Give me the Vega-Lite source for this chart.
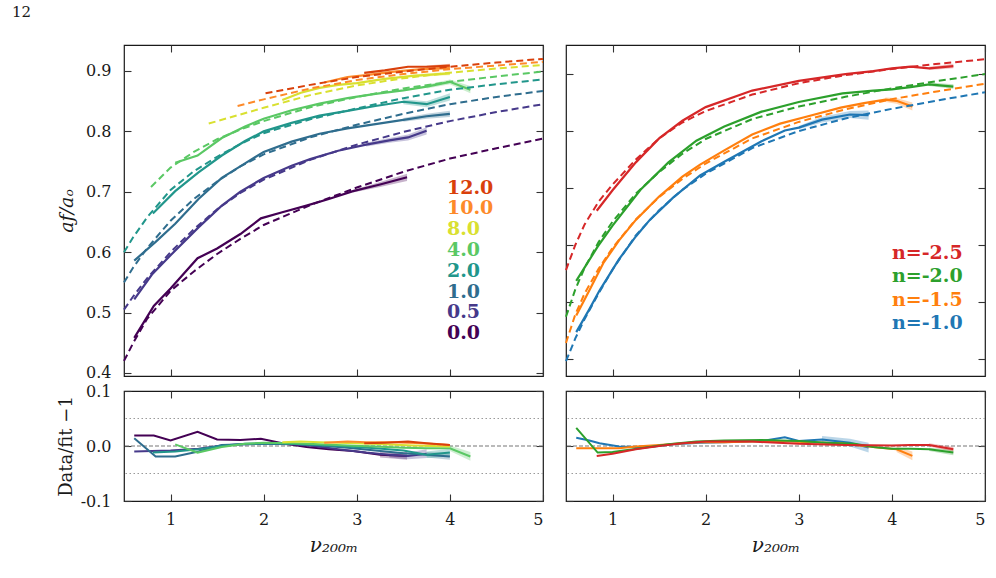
{
"$schema": "https://vega.github.io/schema/vega-lite/v6.json",
"padding": {"left": 12, "top": 4, "right": 8, "bottom": 4},
"background": "white",
"title": {"text": "12", "anchor": "start", "frame": "group", "dx": -112, "offset": 24, "fontSize": 15, "font": "DejaVu Serif", "fontWeight": "normal", "color": "#1a1a1a"},
"columns": 2,
"spacing": {"row": 15, "column": 23},
"bounds": "flush",
"align": "each",
"resolve": {"scale": {"color": "independent"}},
"config": {
  "font": "DejaVu Serif",
  "view": {"stroke": "#1a1a1a", "strokeWidth": 1.2},
  "axis": {"labelFont": "DejaVu Serif", "labelFontSize": 16, "labelColor": "#1a1a1a", "tickColor": "#333333", "tickSize": -7, "tickWidth": 1.1, "domain": false, "grid": false, "labelPadding": 20, "titleFont": "DejaVu Serif", "titleFontWeight": "normal", "titleColor": "#1a1a1a", "titleFontSize": 19},
  "legend": {"labelFont": "DejaVu Serif", "labelFontWeight": "bold", "labelFontSize": 19, "symbolOpacity": 0, "symbolSize": 0, "symbolStrokeWidth": 0, "labelOffset": 0, "padding": 0}
},
"datasets": {
  "fitL": [
    {"g":"0.0","x":0.5,"y":0.42},{"g":"0.0","x":0.6,"y":0.45},{"g":"0.0","x":0.75,"y":0.49},{"g":"0.0","x":1.0,"y":0.536},{"g":"0.0","x":1.25,"y":0.568},{"g":"0.0","x":1.5,"y":0.597},{"g":"0.0","x":1.75,"y":0.622},{"g":"0.0","x":2.0,"y":0.645},{"g":"0.0","x":2.5,"y":0.678},{"g":"0.0","x":3.0,"y":0.707},{"g":"0.0","x":3.5,"y":0.733},{"g":"0.0","x":4.0,"y":0.755},{"g":"0.0","x":4.5,"y":0.772},{"g":"0.0","x":5.0,"y":0.788},
    {"g":"0.5","x":0.5,"y":0.505},{"g":"0.5","x":0.6,"y":0.527},{"g":"0.5","x":0.75,"y":0.557},{"g":"0.5","x":1.0,"y":0.6},{"g":"0.5","x":1.25,"y":0.638},{"g":"0.5","x":1.5,"y":0.671},{"g":"0.5","x":1.75,"y":0.698},{"g":"0.5","x":2.0,"y":0.72},{"g":"0.5","x":2.5,"y":0.753},{"g":"0.5","x":3.0,"y":0.778},{"g":"0.5","x":3.5,"y":0.799},{"g":"0.5","x":4.0,"y":0.817},{"g":"0.5","x":4.5,"y":0.832},{"g":"0.5","x":5.0,"y":0.845},
    {"g":"1.0","x":0.5,"y":0.55},{"g":"1.0","x":0.6,"y":0.575},{"g":"1.0","x":0.75,"y":0.607},{"g":"1.0","x":1.0,"y":0.652},{"g":"1.0","x":1.25,"y":0.688},{"g":"1.0","x":1.5,"y":0.717},{"g":"1.0","x":1.75,"y":0.742},{"g":"1.0","x":2.0,"y":0.762},{"g":"1.0","x":2.5,"y":0.79},{"g":"1.0","x":3.0,"y":0.811},{"g":"1.0","x":3.5,"y":0.829},{"g":"1.0","x":4.0,"y":0.845},{"g":"1.0","x":4.5,"y":0.857},{"g":"1.0","x":5.0,"y":0.867},
    {"g":"2.0","x":0.5,"y":0.6},{"g":"2.0","x":0.6,"y":0.625},{"g":"2.0","x":0.75,"y":0.658},{"g":"2.0","x":1.0,"y":0.703},{"g":"2.0","x":1.25,"y":0.734},{"g":"2.0","x":1.5,"y":0.758},{"g":"2.0","x":1.75,"y":0.779},{"g":"2.0","x":2.0,"y":0.797},{"g":"2.0","x":2.5,"y":0.82},{"g":"2.0","x":3.0,"y":0.838},{"g":"2.0","x":3.5,"y":0.855},{"g":"2.0","x":4.0,"y":0.869},{"g":"2.0","x":4.5,"y":0.878},{"g":"2.0","x":5.0,"y":0.886},
    {"g":"4.0","x":0.79,"y":0.708},{"g":"4.0","x":1.0,"y":0.74},{"g":"4.0","x":1.25,"y":0.766},{"g":"4.0","x":1.5,"y":0.787},{"g":"4.0","x":1.75,"y":0.803},{"g":"4.0","x":2.0,"y":0.817},{"g":"4.0","x":2.5,"y":0.84},{"g":"4.0","x":3.0,"y":0.857},{"g":"4.0","x":3.5,"y":0.871},{"g":"4.0","x":4.0,"y":0.882},{"g":"4.0","x":4.5,"y":0.891},{"g":"4.0","x":5.0,"y":0.899},
    {"g":"8.0","x":1.41,"y":0.813},{"g":"8.0","x":1.75,"y":0.828},{"g":"8.0","x":2.0,"y":0.839},{"g":"8.0","x":2.5,"y":0.86},{"g":"8.0","x":3.0,"y":0.876},{"g":"8.0","x":3.5,"y":0.888},{"g":"8.0","x":4.0,"y":0.897},{"g":"8.0","x":4.5,"y":0.904},{"g":"8.0","x":5.0,"y":0.91},
    {"g":"10.0","x":1.72,"y":0.842},{"g":"10.0","x":2.0,"y":0.853},{"g":"10.0","x":2.5,"y":0.871},{"g":"10.0","x":3.0,"y":0.885},{"g":"10.0","x":3.5,"y":0.895},{"g":"10.0","x":4.0,"y":0.903},{"g":"10.0","x":4.5,"y":0.909},{"g":"10.0","x":5.0,"y":0.915},
    {"g":"12.0","x":2.02,"y":0.863},{"g":"12.0","x":2.5,"y":0.877},{"g":"12.0","x":3.0,"y":0.89},{"g":"12.0","x":3.5,"y":0.899},{"g":"12.0","x":4.0,"y":0.907},{"g":"12.0","x":4.5,"y":0.914},{"g":"12.0","x":5.0,"y":0.92}
  ],
  "dataL": [
    {"g":"0.0","x":0.61,"y":0.458},{"g":"0.0","x":0.82,"y":0.511},{"g":"0.0","x":1.0,"y":0.54},{"g":"0.0","x":1.29,"y":0.59},{"g":"0.0","x":1.5,"y":0.606},{"g":"0.0","x":1.75,"y":0.63},{"g":"0.0","x":1.97,"y":0.656},{"g":"0.0","x":2.2,"y":0.666},{"g":"0.0","x":2.46,"y":0.677},{"g":"0.0","x":2.7,"y":0.688},{"g":"0.0","x":2.96,"y":0.701},{"g":"0.0","x":3.25,"y":0.712},{"g":"0.0","x":3.54,"y":0.724},
    {"g":"0.5","x":0.61,"y":0.522},{"g":"0.5","x":0.8,"y":0.563},{"g":"0.5","x":1.0,"y":0.595},{"g":"0.5","x":1.3,"y":0.641},{"g":"0.5","x":1.55,"y":0.677},{"g":"0.5","x":1.75,"y":0.7},{"g":"0.5","x":2.0,"y":0.723},{"g":"0.5","x":2.3,"y":0.743},{"g":"0.5","x":2.5,"y":0.754},{"g":"0.5","x":2.8,"y":0.768},{"g":"0.5","x":3.1,"y":0.778},{"g":"0.5","x":3.35,"y":0.785},{"g":"0.5","x":3.55,"y":0.79},{"g":"0.5","x":3.75,"y":0.801},
    {"g":"1.0","x":0.61,"y":0.586},{"g":"1.0","x":0.84,"y":0.617},{"g":"1.0","x":1.05,"y":0.647},{"g":"1.0","x":1.3,"y":0.688},{"g":"1.0","x":1.55,"y":0.723},{"g":"1.0","x":1.8,"y":0.747},{"g":"1.0","x":2.0,"y":0.766},{"g":"1.0","x":2.3,"y":0.783},{"g":"1.0","x":2.6,"y":0.796},{"g":"1.0","x":2.9,"y":0.805},{"g":"1.0","x":3.2,"y":0.812},{"g":"1.0","x":3.5,"y":0.819},{"g":"1.0","x":3.75,"y":0.825},{"g":"1.0","x":4.0,"y":0.829},
    {"g":"2.0","x":0.81,"y":0.664},{"g":"2.0","x":1.05,"y":0.701},{"g":"2.0","x":1.3,"y":0.732},{"g":"2.0","x":1.55,"y":0.76},{"g":"2.0","x":1.8,"y":0.784},{"g":"2.0","x":2.0,"y":0.8},{"g":"2.0","x":2.3,"y":0.814},{"g":"2.0","x":2.6,"y":0.826},{"g":"2.0","x":2.9,"y":0.834},{"g":"2.0","x":3.2,"y":0.842},{"g":"2.0","x":3.5,"y":0.849},{"g":"2.0","x":3.75,"y":0.845},{"g":"2.0","x":4.0,"y":0.857},
    {"g":"4.0","x":1.05,"y":0.748},{"g":"4.0","x":1.29,"y":0.76},{"g":"4.0","x":1.55,"y":0.789},{"g":"4.0","x":1.8,"y":0.808},{"g":"4.0","x":2.0,"y":0.821},{"g":"4.0","x":2.3,"y":0.835},{"g":"4.0","x":2.6,"y":0.846},{"g":"4.0","x":2.9,"y":0.855},{"g":"4.0","x":3.2,"y":0.862},{"g":"4.0","x":3.5,"y":0.868},{"g":"4.0","x":3.75,"y":0.874},{"g":"4.0","x":4.0,"y":0.882},{"g":"4.0","x":4.22,"y":0.869},
    {"g":"8.0","x":2.2,"y":0.852},{"g":"8.0","x":2.4,"y":0.864},{"g":"8.0","x":2.6,"y":0.872},{"g":"8.0","x":2.8,"y":0.877},{"g":"8.0","x":3.0,"y":0.88},{"g":"8.0","x":3.3,"y":0.887},{"g":"8.0","x":3.6,"y":0.892},{"g":"8.0","x":3.8,"y":0.894},{"g":"8.0","x":4.0,"y":0.896},
    {"g":"10.0","x":2.65,"y":0.881},{"g":"10.0","x":2.9,"y":0.89},{"g":"10.0","x":3.1,"y":0.893},{"g":"10.0","x":3.4,"y":0.899},{"g":"10.0","x":3.7,"y":0.903},{"g":"10.0","x":4.0,"y":0.905},
    {"g":"12.0","x":3.08,"y":0.897},{"g":"12.0","x":3.3,"y":0.901},{"g":"12.0","x":3.55,"y":0.907},{"g":"12.0","x":3.75,"y":0.907},{"g":"12.0","x":4.0,"y":0.909}
  ],
  "bandL": [
    {"g":"0.0","x":2.96,"lo":0.699,"hi":0.703},{"g":"0.0","x":3.25,"lo":0.708,"hi":0.716},{"g":"0.0","x":3.54,"lo":0.718,"hi":0.73},
    {"g":"0.5","x":3.1,"lo":0.775,"hi":0.781},{"g":"0.5","x":3.35,"lo":0.781,"hi":0.789},{"g":"0.5","x":3.55,"lo":0.785,"hi":0.795},{"g":"0.5","x":3.75,"lo":0.795,"hi":0.807},
    {"g":"1.0","x":3.5,"lo":0.816,"hi":0.822},{"g":"1.0","x":3.75,"lo":0.821,"hi":0.829},{"g":"1.0","x":4.0,"lo":0.824,"hi":0.834},
    {"g":"2.0","x":3.5,"lo":0.845,"hi":0.853},{"g":"2.0","x":3.75,"lo":0.84,"hi":0.85},{"g":"2.0","x":4.0,"lo":0.851,"hi":0.863},
    {"g":"4.0","x":3.75,"lo":0.871,"hi":0.877},{"g":"4.0","x":4.0,"lo":0.878,"hi":0.886},{"g":"4.0","x":4.22,"lo":0.863,"hi":0.875},
    {"g":"8.0","x":3.6,"lo":0.89,"hi":0.894},{"g":"8.0","x":4.0,"lo":0.893,"hi":0.899},
    {"g":"10.0","x":3.7,"lo":0.901,"hi":0.905},{"g":"10.0","x":4.0,"lo":0.902,"hi":0.908},
    {"g":"12.0","x":3.75,"lo":0.905,"hi":0.909},{"g":"12.0","x":4.0,"lo":0.906,"hi":0.912}
  ],
  "resL": [
    {"g":"0.0","x":0.61,"r":0.019},{"g":"0.0","x":0.82,"r":0.019},{"g":"0.0","x":1.0,"r":0.01},{"g":"0.0","x":1.29,"r":0.026},{"g":"0.0","x":1.5,"r":0.012},{"g":"0.0","x":1.75,"r":0.011},{"g":"0.0","x":1.97,"r":0.013},{"g":"0.0","x":2.2,"r":0.005},{"g":"0.0","x":2.46,"r":-0.002},{"g":"0.0","x":2.7,"r":-0.006},{"g":"0.0","x":2.96,"r":-0.009},{"g":"0.0","x":3.25,"r":-0.016},{"g":"0.0","x":3.54,"r":-0.018},
    {"g":"0.5","x":0.61,"r":-0.01},{"g":"0.5","x":0.8,"r":-0.009},{"g":"0.5","x":1.0,"r":-0.008},{"g":"0.5","x":1.3,"r":-0.005},{"g":"0.5","x":1.55,"r":0.001},{"g":"0.5","x":1.75,"r":0.003},{"g":"0.5","x":2.0,"r":0.004},{"g":"0.5","x":2.3,"r":0.003},{"g":"0.5","x":2.5,"r":0.001},{"g":"0.5","x":2.8,"r":-0.006},{"g":"0.5","x":3.1,"r":-0.012},{"g":"0.5","x":3.35,"r":-0.016},{"g":"0.5","x":3.55,"r":-0.018},{"g":"0.5","x":3.75,"r":-0.014},
    {"g":"1.0","x":0.61,"r":0.014},{"g":"1.0","x":0.84,"r":-0.019},{"g":"1.0","x":1.05,"r":-0.019},{"g":"1.0","x":1.3,"r":-0.01},{"g":"1.0","x":1.55,"r":0.002},{"g":"1.0","x":1.8,"r":0.003},{"g":"1.0","x":2.0,"r":0.004},{"g":"1.0","x":2.3,"r":0.004},{"g":"1.0","x":2.6,"r":0.001},{"g":"1.0","x":2.9,"r":-0.003},{"g":"1.0","x":3.2,"r":-0.008},{"g":"1.0","x":3.5,"r":-0.013},{"g":"1.0","x":3.75,"r":-0.016},{"g":"1.0","x":4.0,"r":-0.019},
    {"g":"2.0","x":0.81,"r":-0.012},{"g":"2.0","x":1.05,"r":-0.01},{"g":"2.0","x":1.3,"r":-0.006},{"g":"2.0","x":1.55,"r":0.0},{"g":"2.0","x":1.8,"r":0.004},{"g":"2.0","x":2.0,"r":0.005},{"g":"2.0","x":2.3,"r":0.004},{"g":"2.0","x":2.6,"r":0.002},{"g":"2.0","x":2.9,"r":-0.001},{"g":"2.0","x":3.2,"r":-0.004},{"g":"2.0","x":3.5,"r":-0.008},{"g":"2.0","x":3.75,"r":-0.016},{"g":"2.0","x":4.0,"r":-0.012},
    {"g":"4.0","x":1.05,"r":0.003},{"g":"4.0","x":1.29,"r":-0.012},{"g":"4.0","x":1.55,"r":-0.002},{"g":"4.0","x":1.8,"r":0.004},{"g":"4.0","x":2.0,"r":0.006},{"g":"4.0","x":2.3,"r":0.005},{"g":"4.0","x":2.6,"r":0.003},{"g":"4.0","x":2.9,"r":0.001},{"g":"4.0","x":3.2,"r":-0.001},{"g":"4.0","x":3.5,"r":-0.003},{"g":"4.0","x":3.75,"r":-0.004},{"g":"4.0","x":4.0,"r":-0.004},{"g":"4.0","x":4.22,"r":-0.019},
    {"g":"8.0","x":2.2,"r":0.007},{"g":"8.0","x":2.4,"r":0.008},{"g":"8.0","x":2.6,"r":0.007},{"g":"8.0","x":2.8,"r":0.006},{"g":"8.0","x":3.0,"r":0.005},{"g":"8.0","x":3.3,"r":0.003},{"g":"8.0","x":3.6,"r":0.001},{"g":"8.0","x":3.8,"r":0.0},{"g":"8.0","x":4.0,"r":-0.001},
    {"g":"10.0","x":2.65,"r":0.006},{"g":"10.0","x":2.9,"r":0.008},{"g":"10.0","x":3.1,"r":0.007},{"g":"10.0","x":3.4,"r":0.007},{"g":"10.0","x":3.7,"r":0.005},{"g":"10.0","x":4.0,"r":0.002},
    {"g":"12.0","x":3.08,"r":0.005},{"g":"12.0","x":3.3,"r":0.006},{"g":"12.0","x":3.55,"r":0.008},{"g":"12.0","x":3.75,"r":0.005},{"g":"12.0","x":4.0,"r":0.002}
  ],
  "resbandL": [
    {"g":"0.0","x":3.25,"lo":-0.021,"hi":-0.011},{"g":"0.0","x":3.54,"lo":-0.025,"hi":-0.011},
    {"g":"0.5","x":3.35,"lo":-0.021,"hi":-0.011},{"g":"0.5","x":3.55,"lo":-0.024,"hi":-0.012},{"g":"0.5","x":3.75,"lo":-0.022,"hi":-0.006},
    {"g":"1.0","x":3.75,"lo":-0.021,"hi":-0.011},{"g":"1.0","x":4.0,"lo":-0.025,"hi":-0.013},
    {"g":"2.0","x":3.75,"lo":-0.022,"hi":-0.01},{"g":"2.0","x":4.0,"lo":-0.019,"hi":-0.005},
    {"g":"4.0","x":4.0,"lo":-0.009,"hi":0.001},{"g":"4.0","x":4.22,"lo":-0.027,"hi":-0.011}
  ],
  "fitR": [
    {"g":"n=-1.0","x":0.5,"y":0.396},{"g":"n=-1.0","x":0.6,"y":0.436},{"g":"n=-1.0","x":0.7,"y":0.47},{"g":"n=-1.0","x":0.85,"y":0.515},{"g":"n=-1.0","x":1.0,"y":0.557},{"g":"n=-1.0","x":1.25,"y":0.617},{"g":"n=-1.0","x":1.5,"y":0.661},{"g":"n=-1.0","x":1.75,"y":0.697},{"g":"n=-1.0","x":2.0,"y":0.725},{"g":"n=-1.0","x":2.5,"y":0.77},{"g":"n=-1.0","x":3.0,"y":0.8},{"g":"n=-1.0","x":3.5,"y":0.822},{"g":"n=-1.0","x":4.0,"y":0.839},{"g":"n=-1.0","x":4.5,"y":0.854},{"g":"n=-1.0","x":5.0,"y":0.868},
    {"g":"n=-1.5","x":0.5,"y":0.428},{"g":"n=-1.5","x":0.6,"y":0.478},{"g":"n=-1.5","x":0.7,"y":0.515},{"g":"n=-1.5","x":0.85,"y":0.558},{"g":"n=-1.5","x":1.0,"y":0.595},{"g":"n=-1.5","x":1.25,"y":0.645},{"g":"n=-1.5","x":1.5,"y":0.684},{"g":"n=-1.5","x":1.75,"y":0.716},{"g":"n=-1.5","x":2.0,"y":0.743},{"g":"n=-1.5","x":2.5,"y":0.787},{"g":"n=-1.5","x":3.0,"y":0.816},{"g":"n=-1.5","x":3.5,"y":0.838},{"g":"n=-1.5","x":4.0,"y":0.856},{"g":"n=-1.5","x":4.5,"y":0.87},{"g":"n=-1.5","x":5.0,"y":0.883},
    {"g":"n=-2.0","x":0.5,"y":0.474},{"g":"n=-2.0","x":0.6,"y":0.522},{"g":"n=-2.0","x":0.7,"y":0.56},{"g":"n=-2.0","x":0.85,"y":0.605},{"g":"n=-2.0","x":1.0,"y":0.641},{"g":"n=-2.0","x":1.25,"y":0.69},{"g":"n=-2.0","x":1.5,"y":0.728},{"g":"n=-2.0","x":1.75,"y":0.76},{"g":"n=-2.0","x":2.0,"y":0.786},{"g":"n=-2.0","x":2.5,"y":0.821},{"g":"n=-2.0","x":3.0,"y":0.843},{"g":"n=-2.0","x":3.5,"y":0.86},{"g":"n=-2.0","x":4.0,"y":0.875},{"g":"n=-2.0","x":4.5,"y":0.888},{"g":"n=-2.0","x":5.0,"y":0.9},
    {"g":"n=-2.5","x":0.5,"y":0.556},{"g":"n=-2.5","x":0.6,"y":0.6},{"g":"n=-2.5","x":0.7,"y":0.636},{"g":"n=-2.5","x":0.85,"y":0.676},{"g":"n=-2.5","x":1.0,"y":0.706},{"g":"n=-2.5","x":1.25,"y":0.75},{"g":"n=-2.5","x":1.5,"y":0.787},{"g":"n=-2.5","x":1.75,"y":0.815},{"g":"n=-2.5","x":2.0,"y":0.835},{"g":"n=-2.5","x":2.5,"y":0.864},{"g":"n=-2.5","x":3.0,"y":0.884},{"g":"n=-2.5","x":3.5,"y":0.898},{"g":"n=-2.5","x":4.0,"y":0.909},{"g":"n=-2.5","x":4.5,"y":0.918},{"g":"n=-2.5","x":5.0,"y":0.926}
  ],
  "dataR": [
    {"g":"n=-1.0","x":0.61,"y":0.447},{"g":"n=-1.0","x":0.75,"y":0.487},{"g":"n=-1.0","x":0.86,"y":0.52},{"g":"n=-1.0","x":1.07,"y":0.575},{"g":"n=-1.0","x":1.25,"y":0.615},{"g":"n=-1.0","x":1.4,"y":0.644},{"g":"n=-1.0","x":1.65,"y":0.683},{"g":"n=-1.0","x":1.94,"y":0.722},{"g":"n=-1.0","x":2.2,"y":0.746},{"g":"n=-1.0","x":2.6,"y":0.782},{"g":"n=-1.0","x":2.85,"y":0.801},{"g":"n=-1.0","x":3.0,"y":0.806},{"g":"n=-1.0","x":3.25,"y":0.82},{"g":"n=-1.0","x":3.55,"y":0.829},{"g":"n=-1.0","x":3.75,"y":0.828},
    {"g":"n=-1.5","x":0.61,"y":0.476},{"g":"n=-1.5","x":0.75,"y":0.52},{"g":"n=-1.5","x":0.9,"y":0.568},{"g":"n=-1.5","x":1.07,"y":0.608},{"g":"n=-1.5","x":1.25,"y":0.644},{"g":"n=-1.5","x":1.5,"y":0.685},{"g":"n=-1.5","x":1.75,"y":0.72},{"g":"n=-1.5","x":1.94,"y":0.741},{"g":"n=-1.5","x":2.2,"y":0.766},{"g":"n=-1.5","x":2.5,"y":0.794},{"g":"n=-1.5","x":2.8,"y":0.813},{"g":"n=-1.5","x":3.1,"y":0.826},{"g":"n=-1.5","x":3.45,"y":0.841},{"g":"n=-1.5","x":3.7,"y":0.849},{"g":"n=-1.5","x":3.93,"y":0.855},{"g":"n=-1.5","x":4.05,"y":0.853},{"g":"n=-1.5","x":4.22,"y":0.843},
    {"g":"n=-2.0","x":0.61,"y":0.537},{"g":"n=-2.0","x":0.84,"y":0.597},{"g":"n=-2.0","x":1.0,"y":0.634},{"g":"n=-2.0","x":1.3,"y":0.697},{"g":"n=-2.0","x":1.6,"y":0.745},{"g":"n=-2.0","x":1.9,"y":0.783},{"g":"n=-2.0","x":2.2,"y":0.808},{"g":"n=-2.0","x":2.6,"y":0.834},{"g":"n=-2.0","x":3.0,"y":0.851},{"g":"n=-2.0","x":3.47,"y":0.866},{"g":"n=-2.0","x":3.8,"y":0.871},{"g":"n=-2.0","x":4.0,"y":0.873},{"g":"n=-2.0","x":4.2,"y":0.877},{"g":"n=-2.0","x":4.4,"y":0.882},{"g":"n=-2.0","x":4.66,"y":0.878},
    {"g":"n=-2.5","x":0.83,"y":0.66},{"g":"n=-2.5","x":1.0,"y":0.696},{"g":"n=-2.5","x":1.25,"y":0.745},{"g":"n=-2.5","x":1.5,"y":0.787},{"g":"n=-2.5","x":1.75,"y":0.818},{"g":"n=-2.5","x":2.0,"y":0.842},{"g":"n=-2.5","x":2.5,"y":0.871},{"g":"n=-2.5","x":3.0,"y":0.888},{"g":"n=-2.5","x":3.5,"y":0.9},{"g":"n=-2.5","x":3.8,"y":0.905},{"g":"n=-2.5","x":4.0,"y":0.91},{"g":"n=-2.5","x":4.2,"y":0.913},{"g":"n=-2.5","x":4.4,"y":0.91},{"g":"n=-2.5","x":4.66,"y":0.914}
  ],
  "bandR": [
    {"g":"n=-1.0","x":3.0,"lo":0.803,"hi":0.809},{"g":"n=-1.0","x":3.25,"lo":0.815,"hi":0.825},{"g":"n=-1.0","x":3.55,"lo":0.823,"hi":0.835},{"g":"n=-1.0","x":3.75,"lo":0.82,"hi":0.836},
    {"g":"n=-1.5","x":3.93,"lo":0.851,"hi":0.859},{"g":"n=-1.5","x":4.05,"lo":0.848,"hi":0.858},{"g":"n=-1.5","x":4.22,"lo":0.836,"hi":0.85},
    {"g":"n=-2.0","x":4.4,"lo":0.879,"hi":0.885},{"g":"n=-2.0","x":4.66,"lo":0.874,"hi":0.882},
    {"g":"n=-2.5","x":4.4,"lo":0.907,"hi":0.913},{"g":"n=-2.5","x":4.66,"lo":0.91,"hi":0.918}
  ],
  "resR": [
    {"g":"n=-1.0","x":0.61,"r":0.015},{"g":"n=-1.0","x":0.75,"r":0.01},{"g":"n=-1.0","x":0.86,"r":0.005},{"g":"n=-1.0","x":1.07,"r":-0.001},{"g":"n=-1.0","x":1.25,"r":-0.002},{"g":"n=-1.0","x":1.4,"r":-0.002},{"g":"n=-1.0","x":1.65,"r":0.003},{"g":"n=-1.0","x":1.94,"r":0.006},{"g":"n=-1.0","x":2.2,"r":0.007},{"g":"n=-1.0","x":2.6,"r":0.009},{"g":"n=-1.0","x":2.85,"r":0.016},{"g":"n=-1.0","x":3.0,"r":0.009},{"g":"n=-1.0","x":3.25,"r":0.012},{"g":"n=-1.0","x":3.55,"r":0.006},{"g":"n=-1.0","x":3.75,"r":-0.003},
    {"g":"n=-1.5","x":0.61,"r":-0.004},{"g":"n=-1.5","x":0.75,"r":-0.004},{"g":"n=-1.5","x":0.9,"r":-0.004},{"g":"n=-1.5","x":1.07,"r":-0.004},{"g":"n=-1.5","x":1.25,"r":-0.001},{"g":"n=-1.5","x":1.5,"r":0.002},{"g":"n=-1.5","x":1.75,"r":0.005},{"g":"n=-1.5","x":1.94,"r":0.007},{"g":"n=-1.5","x":2.2,"r":0.007},{"g":"n=-1.5","x":2.5,"r":0.008},{"g":"n=-1.5","x":2.8,"r":0.009},{"g":"n=-1.5","x":3.1,"r":0.007},{"g":"n=-1.5","x":3.45,"r":0.005},{"g":"n=-1.5","x":3.7,"r":0.0},{"g":"n=-1.5","x":3.87,"r":-0.003},{"g":"n=-1.5","x":4.05,"r":-0.006},{"g":"n=-1.5","x":4.22,"r":-0.018},
    {"g":"n=-2.0","x":0.61,"r":0.033},{"g":"n=-2.0","x":0.84,"r":-0.012},{"g":"n=-2.0","x":1.0,"r":-0.011},{"g":"n=-2.0","x":1.3,"r":-0.004},{"g":"n=-2.0","x":1.6,"r":0.003},{"g":"n=-2.0","x":1.9,"r":0.008},{"g":"n=-2.0","x":2.2,"r":0.01},{"g":"n=-2.0","x":2.6,"r":0.011},{"g":"n=-2.0","x":3.0,"r":0.009},{"g":"n=-2.0","x":3.3,"r":0.006},{"g":"n=-2.0","x":3.6,"r":0.004},{"g":"n=-2.0","x":3.8,"r":-0.002},{"g":"n=-2.0","x":4.0,"r":-0.005},{"g":"n=-2.0","x":4.2,"r":-0.005},{"g":"n=-2.0","x":4.4,"r":-0.006},{"g":"n=-2.0","x":4.66,"r":-0.012},
    {"g":"n=-2.5","x":0.83,"r":-0.018},{"g":"n=-2.5","x":1.0,"r":-0.014},{"g":"n=-2.5","x":1.25,"r":-0.006},{"g":"n=-2.5","x":1.5,"r":0.0},{"g":"n=-2.5","x":1.75,"r":0.005},{"g":"n=-2.5","x":2.0,"r":0.008},{"g":"n=-2.5","x":2.5,"r":0.008},{"g":"n=-2.5","x":3.0,"r":0.004},{"g":"n=-2.5","x":3.5,"r":0.002},{"g":"n=-2.5","x":4.0,"r":0.001},{"g":"n=-2.5","x":4.2,"r":0.002},{"g":"n=-2.5","x":4.4,"r":0.002},{"g":"n=-2.5","x":4.66,"r":-0.006}
  ],
  "resbandR": [
    {"g":"n=-1.0","x":3.25,"lo":0.006,"hi":0.018},{"g":"n=-1.0","x":3.55,"lo":-0.001,"hi":0.013},{"g":"n=-1.0","x":3.75,"lo":-0.012,"hi":0.006},
    {"g":"n=-1.5","x":4.05,"lo":-0.011,"hi":-0.001},{"g":"n=-1.5","x":4.22,"lo":-0.026,"hi":-0.01},
    {"g":"n=-2.0","x":4.4,"lo":-0.009,"hi":-0.003},{"g":"n=-2.0","x":4.66,"lo":-0.017,"hi":-0.007},
    {"g":"n=-2.5","x":4.4,"lo":-0.001,"hi":0.005},{"g":"n=-2.5","x":4.66,"lo":-0.01,"hi":-0.002}
  ],
  "dots": [{"r": 0.05}, {"r": -0.05}],
  "zero": [{"r": 0}]
},
"concat": [
  {
    "width": 419, "height": 331,
    "layer": [
      {"data": {"name": "bandL"}, "mark": {"type": "area", "opacity": 0.3},
       "encoding": {
         "x": {"field": "x", "type": "quantitative", "scale": {"domain": [0.5, 5]}, "axis": null},
         "y": {"field": "lo", "type": "quantitative", "stack": null, "scale": {"domain": [0.395, 0.943]}, "axis": null},
         "y2": {"field": "hi"},
         "color": {"field": "g", "type": "nominal", "scale": {"domain": ["12.0","10.0","8.0","4.0","2.0","1.0","0.5","0.0"], "range": ["#d9400b","#fd8a2a","#d9e030","#5ac864","#21968b","#2f6d8e","#46398a","#440154"]},
           "legend": {"title": null, "orient": "none", "legendX": 304, "legendY": 133, "rowPadding": 0.8, "encode": {"labels": {"update": {"fill": {"signal": "datum.value==='12.0'?'#d9400b':datum.value==='10.0'?'#fd8a2a':datum.value==='8.0'?'#d9e030':datum.value==='4.0'?'#5ac864':datum.value==='2.0'?'#21968b':datum.value==='1.0'?'#2f6d8e':datum.value==='0.5'?'#46398a':'#440154'"}}}}}}}},
      {"data": {"name": "dataL"}, "mark": {"type": "line", "strokeWidth": 2.2},
       "encoding": {
         "x": {"field": "x", "type": "quantitative", "scale": {"domain": [0.5, 5]}, "axis": {"orient": "bottom", "values": [1,2,3,4,5], "labels": false, "title": null}},
         "y": {"field": "y", "type": "quantitative", "scale": {"domain": [0.395, 0.943]}, "axis": {"orient": "left", "values": [0.4,0.5,0.6,0.7,0.8,0.9], "format": ".1f", "title": "aƒ/aₒ", "titleFontStyle": "italic", "titlePadding": 9}},
         "color": {"field": "g", "type": "nominal", "scale": {"domain": ["12.0","10.0","8.0","4.0","2.0","1.0","0.5","0.0"], "range": ["#d9400b","#fd8a2a","#d9e030","#5ac864","#21968b","#2f6d8e","#46398a","#440154"]},
           "legend": {"title": null, "orient": "none", "legendX": 304, "legendY": 133, "rowPadding": 0.8, "encode": {"labels": {"update": {"fill": {"signal": "datum.value==='12.0'?'#d9400b':datum.value==='10.0'?'#fd8a2a':datum.value==='8.0'?'#d9e030':datum.value==='4.0'?'#5ac864':datum.value==='2.0'?'#21968b':datum.value==='1.0'?'#2f6d8e':datum.value==='0.5'?'#46398a':'#440154'"}}}}}}}},
      {"data": {"name": "fitL"}, "mark": {"type": "line", "strokeWidth": 2, "strokeDash": [7, 4]},
       "encoding": {
         "x": {"field": "x", "type": "quantitative", "scale": {"domain": [0.5, 5]}, "axis": {"orient": "top", "values": [1,2,3,4,5], "labels": false, "title": null}},
         "y": {"field": "y", "type": "quantitative", "scale": {"domain": [0.395, 0.943]}, "axis": {"orient": "right", "values": [0.4,0.5,0.6,0.7,0.8,0.9], "labels": false, "title": null}},
         "color": {"field": "g", "type": "nominal", "scale": {"domain": ["12.0","10.0","8.0","4.0","2.0","1.0","0.5","0.0"], "range": ["#d9400b","#fd8a2a","#d9e030","#5ac864","#21968b","#2f6d8e","#46398a","#440154"]},
           "legend": {"title": null, "orient": "none", "legendX": 304, "legendY": 133, "rowPadding": 0.8, "encode": {"labels": {"update": {"fill": {"signal": "datum.value==='12.0'?'#d9400b':datum.value==='10.0'?'#fd8a2a':datum.value==='8.0'?'#d9e030':datum.value==='4.0'?'#5ac864':datum.value==='2.0'?'#21968b':datum.value==='1.0'?'#2f6d8e':datum.value==='0.5'?'#46398a':'#440154'"}}}}}}}}
    ],
    "resolve": {"axis": {"x": "independent", "y": "independent"}}
  },
  {
    "width": 419, "height": 331,
    "layer": [
      {"data": {"name": "bandR"}, "mark": {"type": "area", "opacity": 0.3},
       "encoding": {
         "x": {"field": "x", "type": "quantitative", "scale": {"domain": [0.5, 5]}, "axis": null},
         "y": {"field": "lo", "type": "quantitative", "stack": null, "scale": {"domain": [0.37, 0.951]}, "axis": null},
         "y2": {"field": "hi"},
         "color": {"field": "g", "type": "nominal", "scale": {"domain": ["n=-2.5","n=-2.0","n=-1.5","n=-1.0"], "range": ["#d62728","#2ca02c","#ff7f0e","#1f77b4"]},
           "legend": {"title": null, "orient": "none", "legendX": 307, "legendY": 198, "rowPadding": 3.6, "encode": {"labels": {"update": {"fill": {"signal": "datum.value==='n=-2.5'?'#d62728':datum.value==='n=-2.0'?'#2ca02c':datum.value==='n=-1.5'?'#ff7f0e':'#1f77b4'"}}}}}}}},
      {"data": {"name": "dataR"}, "mark": {"type": "line", "strokeWidth": 2.2},
       "encoding": {
         "x": {"field": "x", "type": "quantitative", "scale": {"domain": [0.5, 5]}, "axis": {"orient": "bottom", "values": [1,2,3,4,5], "labels": false, "title": null}},
         "y": {"field": "y", "type": "quantitative", "scale": {"domain": [0.37, 0.951]}, "axis": {"orient": "left", "values": [0.4,0.5,0.6,0.7,0.8,0.9], "labels": false, "title": null}},
         "color": {"field": "g", "type": "nominal", "scale": {"domain": ["n=-2.5","n=-2.0","n=-1.5","n=-1.0"], "range": ["#d62728","#2ca02c","#ff7f0e","#1f77b4"]},
           "legend": {"title": null, "orient": "none", "legendX": 307, "legendY": 198, "rowPadding": 3.6, "encode": {"labels": {"update": {"fill": {"signal": "datum.value==='n=-2.5'?'#d62728':datum.value==='n=-2.0'?'#2ca02c':datum.value==='n=-1.5'?'#ff7f0e':'#1f77b4'"}}}}}}}},
      {"data": {"name": "fitR"}, "mark": {"type": "line", "strokeWidth": 2, "strokeDash": [7, 4]},
       "encoding": {
         "x": {"field": "x", "type": "quantitative", "scale": {"domain": [0.5, 5]}, "axis": {"orient": "top", "values": [1,2,3,4,5], "labels": false, "title": null}},
         "y": {"field": "y", "type": "quantitative", "scale": {"domain": [0.37, 0.951]}, "axis": {"orient": "right", "values": [0.4,0.5,0.6,0.7,0.8,0.9], "labels": false, "title": null}},
         "color": {"field": "g", "type": "nominal", "scale": {"domain": ["n=-2.5","n=-2.0","n=-1.5","n=-1.0"], "range": ["#d62728","#2ca02c","#ff7f0e","#1f77b4"]},
           "legend": {"title": null, "orient": "none", "legendX": 307, "legendY": 198, "rowPadding": 3.6, "encode": {"labels": {"update": {"fill": {"signal": "datum.value==='n=-2.5'?'#d62728':datum.value==='n=-2.0'?'#2ca02c':datum.value==='n=-1.5'?'#ff7f0e':'#1f77b4'"}}}}}}}}
    ],
    "resolve": {"axis": {"x": "independent", "y": "independent"}}
  },
  {
    "width": 419, "height": 110,
    "layer": [
      {"data": {"name": "dots"}, "mark": {"type": "rule", "color": "#9a9a9a", "strokeWidth": 1.2, "strokeDash": [1.5, 2.5]},
       "encoding": {"y": {"field": "r", "type": "quantitative", "scale": {"domain": [-0.1, 0.1]}, "axis": {"orient": "left", "values": [-0.1, 0, 0.1], "format": ".1f", "labelExpr": "replace(datum.label, '−', '-')", "title": "Data/fit −1", "titleFontSize": 18, "titlePadding": 5}}}},
      {"data": {"name": "zero"}, "mark": {"type": "rule", "color": "#777777", "strokeWidth": 1.1, "strokeDash": [4, 2]},
       "encoding": {"y": {"field": "r", "type": "quantitative", "scale": {"domain": [-0.1, 0.1]}, "axis": null}}},
      {"data": {"name": "resbandL"}, "mark": {"type": "area", "opacity": 0.3},
       "encoding": {
         "x": {"field": "x", "type": "quantitative", "scale": {"domain": [0.5, 5]}, "axis": {"orient": "top", "values": [1,2,3,4,5], "labels": false, "title": null}},
         "y": {"field": "lo", "type": "quantitative", "stack": null, "scale": {"domain": [-0.1, 0.1]}, "axis": null},
         "y2": {"field": "hi"},
         "color": {"field": "g", "type": "nominal", "legend": null, "scale": {"domain": ["12.0","10.0","8.0","4.0","2.0","1.0","0.5","0.0"], "range": ["#d9400b","#fd8a2a","#d9e030","#5ac864","#21968b","#2f6d8e","#46398a","#440154"]}}}},
      {"data": {"name": "resL"}, "mark": {"type": "line", "strokeWidth": 2},
       "encoding": {
         "x": {"field": "x", "type": "quantitative", "scale": {"domain": [0.5, 5]}, "axis": {"orient": "bottom", "values": [1,2,3,4,5], "format": "d", "labelPadding": 17, "title": "ν₂₀₀ₘ", "titleFontSize": 20, "titleFontStyle": "italic", "titlePadding": 8}},
         "y": {"field": "r", "type": "quantitative", "scale": {"domain": [-0.1, 0.1]}, "axis": {"orient": "right", "values": [-0.1, 0, 0.1], "labels": false, "title": null}},
         "color": {"field": "g", "type": "nominal", "legend": null, "scale": {"domain": ["12.0","10.0","8.0","4.0","2.0","1.0","0.5","0.0"], "range": ["#d9400b","#fd8a2a","#d9e030","#5ac864","#21968b","#2f6d8e","#46398a","#440154"]}}}}
    ],
    "resolve": {"axis": {"x": "independent", "y": "independent"}}
  },
  {
    "width": 419, "height": 110,
    "layer": [
      {"data": {"name": "dots"}, "mark": {"type": "rule", "color": "#9a9a9a", "strokeWidth": 1.2, "strokeDash": [1.5, 2.5]},
       "encoding": {"y": {"field": "r", "type": "quantitative", "scale": {"domain": [-0.1, 0.1]}, "axis": {"orient": "left", "values": [-0.1, 0, 0.1], "labels": false, "title": null}}}},
      {"data": {"name": "zero"}, "mark": {"type": "rule", "color": "#777777", "strokeWidth": 1.1, "strokeDash": [4, 2]},
       "encoding": {"y": {"field": "r", "type": "quantitative", "scale": {"domain": [-0.1, 0.1]}, "axis": null}}},
      {"data": {"name": "resbandR"}, "mark": {"type": "area", "opacity": 0.3},
       "encoding": {
         "x": {"field": "x", "type": "quantitative", "scale": {"domain": [0.5, 5]}, "axis": {"orient": "top", "values": [1,2,3,4,5], "labels": false, "title": null}},
         "y": {"field": "lo", "type": "quantitative", "stack": null, "scale": {"domain": [-0.1, 0.1]}, "axis": null},
         "y2": {"field": "hi"},
         "color": {"field": "g", "type": "nominal", "legend": null, "scale": {"domain": ["n=-2.5","n=-2.0","n=-1.5","n=-1.0"], "range": ["#d62728","#2ca02c","#ff7f0e","#1f77b4"]}}}},
      {"data": {"name": "resR"}, "mark": {"type": "line", "strokeWidth": 2},
       "encoding": {
         "x": {"field": "x", "type": "quantitative", "scale": {"domain": [0.5, 5]}, "axis": {"orient": "bottom", "values": [1,2,3,4,5], "format": "d", "labelPadding": 17, "title": "ν₂₀₀ₘ", "titleFontSize": 20, "titleFontStyle": "italic", "titlePadding": 8}},
         "y": {"field": "r", "type": "quantitative", "scale": {"domain": [-0.1, 0.1]}, "axis": {"orient": "right", "values": [-0.1, 0, 0.1], "labels": false, "title": null}},
         "color": {"field": "g", "type": "nominal", "legend": null, "scale": {"domain": ["n=-2.5","n=-2.0","n=-1.5","n=-1.0"], "range": ["#d62728","#2ca02c","#ff7f0e","#1f77b4"]}}}}
    ],
    "resolve": {"axis": {"x": "independent", "y": "independent"}}
  }
]
}
